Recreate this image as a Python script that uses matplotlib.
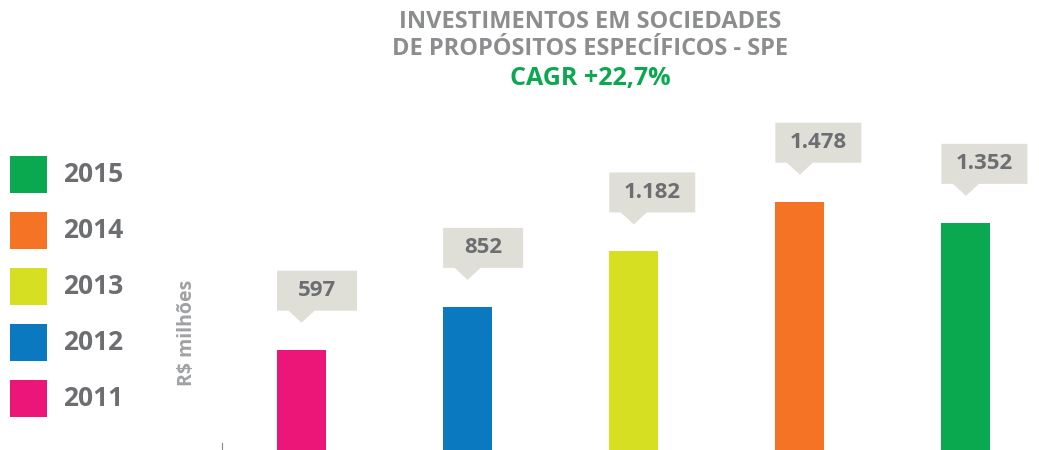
import matplotlib.pyplot as plt
import matplotlib.transforms as mtransforms
from matplotlib.patches import Polygon, Rectangle

years = ['2011', '2012', '2013', '2014', '2015']
values = [597, 852, 1182, 1478, 1352]
labels = ['597', '852', '1.182', '1.478', '1.352']
colors = ['#ec1679', '#0b79c0', '#d7df23', '#f47324', '#0aa84f']

gray = '#6d6e71'
box_color = '#dfdfd7'

fig = plt.figure(figsize=(10.39, 4.5), dpi=100)
plt.rcParams['font.family'] = ['Open Sans', 'DejaVu Sans']

ax = fig.add_axes([222 / 1039, 0, (1039 - 222) / 1039, 1])
x = list(range(len(years)))
bw = 0.295
ax.bar(x, values, width=bw, color=colors, align='center')
ax.set_xlim(-0.479, 4.44)
ax.set_ylim(0, 450 / 0.168)
for s in ['top', 'right', 'bottom']:
    ax.spines[s].set_visible(False)
ax.spines['left'].set_bounds(0, 40)
ax.spines['left'].set_color('#888888')
ax.set_xticks([])
ax.set_yticks([])
ax.patch.set_alpha(0)

# callouts above bars (shape in inches, anchored at bar left/top)
for xi, v, lab in zip(x, values, labels):
    tr = fig.dpi_scale_trans + mtransforms.ScaledTranslation(xi - bw / 2, v, ax.transData)
    w = 0.80 if len(lab) <= 3 else 0.86
    cx = 0.245
    shape = [(0, 0.39), (cx - 0.13, 0.39), (cx, 0.27), (cx + 0.13, 0.39),
             (w, 0.39), (w, 0.79), (0, 0.79)]
    ax.add_patch(Polygon(shape, closed=True, transform=tr, facecolor=box_color,
                         edgecolor='none', clip_on=False))
    ax.text(w / 2, 0.59, lab, transform=tr, ha='center', va='center',
            fontsize=16, fontweight='bold', color=gray)

# legend on the left
for i, (yr, c) in enumerate(zip(years[::-1], colors[::-1])):
    top = 156 + i * 56
    fig.patches.append(Rectangle((10 / 1039, 1 - (top + 37) / 450), 37 / 1039, 37 / 450,
                                 transform=fig.transFigure, facecolor=c, edgecolor='none'))
    fig.text(63 / 1039, 1 - (top + 18.5) / 450, yr, ha='left', va='center',
             fontsize=19, fontweight='bold', color=gray)

fig.text(187 / 1039, 1 - 333 / 450, 'R$ milhões', rotation=90, ha='center', va='center',
         fontsize=14, fontweight='bold', color='#a0a1a3')

fig.text(590 / 1039, 1 - 22 / 450, 'INVESTIMENTOS EM SOCIEDADES', ha='center', va='center',
         fontsize=17, fontweight='bold', color='#8c8d8f')
fig.text(590 / 1039, 1 - 49 / 450, 'DE PROPÓSITOS ESPECÍFICOS - SPE', ha='center', va='center',
         fontsize=17, fontweight='bold', color='#8c8d8f')
fig.text(590 / 1039, 1 - 79 / 450, 'CAGR +22,7%', ha='center', va='center',
         fontsize=18, fontweight='bold', color='#0aa84f')

fig.savefig('out.png', dpi=100)
